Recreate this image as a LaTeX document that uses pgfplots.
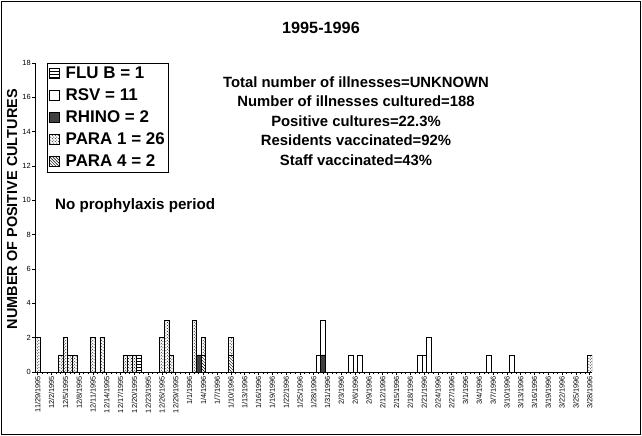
\documentclass[border=0pt]{standalone}
\usepackage{fontspec}
\setmainfont{Liberation Sans}
\usepackage{pgfplots}
\usepackage{pgfplotstable}
\pgfplotsset{compat=1.18}
\usetikzlibrary{patterns}

% day = days since 11/29/1995
\pgfplotstableread{
day rhino para4 para1 flub rsv
0   0 0 2 0 0
5   0 0 1 0 0
6   0 0 2 0 0
7   0 0 1 0 0
8   0 0 1 0 0
12  0 0 2 0 0
14  0 0 2 0 0
19  0 0 1 0 0
20  0 0 1 0 0
21  0 0 1 0 0
22  0 0 0 1 0
27  0 0 2 0 0
28  0 0 3 0 0
29  0 0 1 0 0
34  0 0 3 0 0
35  1 0 0 0 0
36  0 1 1 0 0
42  0 1 1 0 0
61  0 0 0 0 1
62  1 0 0 0 2
68  0 0 0 0 1
70  0 0 0 0 1
83  0 0 0 0 1
84  0 0 0 0 1
85  0 0 0 0 2
98  0 0 0 0 1
103 0 0 0 0 1
120 0 0 1 0 0
}\cultures

\begin{document}
\begin{tikzpicture}
\path[use as bounding box] (0bp,0bp) rectangle (642bp,436bp);
\draw[line width=1.2bp] (1.5bp,1.5bp) rectangle (640.5bp,434.5bp);
\begin{axis}[
  at={(35.5bp,64bp)}, anchor=south west,
  scale only axis, width=556.5bp, height=309bp,
  clip mode=individual,
  ybar stacked, bar width=1,
  xmin=-0.5, xmax=120.5, ymin=0, ymax=18,
  axis x line*=bottom, axis y line*=left,
  axis line style={line width=0.8bp},
  tick align=outside, major tick length=3bp, minor tick length=2bp,
  tick style={black, line width=0.6bp},
  xtick={0,3,...,120}, minor x tick num=2,
  xticklabels={11/29/1995,12/2/1995,12/5/1995,12/8/1995,12/11/1995,12/14/1995,12/17/1995,12/20/1995,12/23/1995,12/26/1995,12/29/1995,1/1/1996,1/4/1996,1/7/1996,1/10/1996,1/13/1996,1/16/1996,1/19/1996,1/22/1996,1/25/1996,1/28/1996,1/31/1996,2/3/1996,2/6/1996,2/9/1996,2/12/1996,2/15/1996,2/18/1996,2/21/1996,2/24/1996,2/27/1996,3/1/1996,3/4/1996,3/7/1996,3/10/1996,3/13/1996,3/16/1996,3/19/1996,3/22/1996,3/25/1996,3/28/1996},
  xticklabel style={rotate=90, anchor=east, font=\fontsize{7.4}{8}\selectfont, inner sep=1bp},
  ytick={0,2,...,18},
  yticklabel style={font=\fontsize{7.5}{8}\selectfont, inner sep=1.5bp},
  /pgf/number format/assume math mode=true,
  ylabel={NUMBER OF POSITIVE CULTURES},
  every axis y label/.style={at={(axis description cs:-0.042,0.527)}, rotate=90, anchor=center,
    font=\fontsize{14.5}{16}\selectfont\bfseries},
  legend image code/.code={\draw[#1, line width=0.8bp] (0bp,-5bp) rectangle (10bp,5bp); \path (14bp,0bp);},
  legend style={at={(axis description cs:0.0207,1)}, anchor=north west,
    draw=black, line width=0.8bp, fill=white,
    font=\fontsize{17}{20}\selectfont\bfseries,
    cells={anchor=west}, row sep=5bp, inner sep=2bp,
    nodes={inner sep=1.5bp, text height=12bp, text depth=2bp}},
  legend cell align=left,
]
\addplot[draw=black, line width=0.5bp, fill=black!75, forget plot] table[x=day, y=rhino] {\cultures};
\addplot[draw=black, line width=0.5bp, pattern=north west lines, forget plot] table[x=day, y=para4] {\cultures};
\addplot[draw=black, line width=0.5bp, pattern=crosshatch dots, forget plot] table[x=day, y=para1] {\cultures};
\addplot[draw=black, line width=0.5bp, pattern=horizontal lines, forget plot] table[x=day, y=flub] {\cultures};
\addplot[draw=black, line width=0.5bp, fill=white, forget plot] table[x=day, y=rsv] {\cultures};

\addlegendimage{pattern=horizontal lines, draw=black}
\addlegendentry{FLU B = 1}
\addlegendimage{fill=white, draw=black}
\addlegendentry{RSV = 11}
\addlegendimage{fill=black!75, draw=black}
\addlegendentry{RHINO = 2}
\addlegendimage{pattern=crosshatch dots, draw=black}
\addlegendentry{PARA 1 = 26}
\addlegendimage{pattern=north west lines, draw=black}
\addlegendentry{PARA 4 = 2}

\node[font=\fontsize{16.3}{18}\selectfont\bfseries] at (axis description cs:0.513,1.113) {1995-1996};
\node[font=\fontsize{14.9}{19.5}\selectfont\bfseries, align=center] at (axis description cs:0.576,0.812)
  {Total number of illnesses=UNKNOWN\\Number of illnesses cultured=188\\Positive cultures=22.3\%\\Residents vaccinated=92\%\\Staff vaccinated=43\%};
\node[font=\fontsize{15.2}{17}\selectfont\bfseries] at (axis description cs:0.179,0.537) {No prophylaxis period};
\end{axis}
\end{tikzpicture}
\end{document}
